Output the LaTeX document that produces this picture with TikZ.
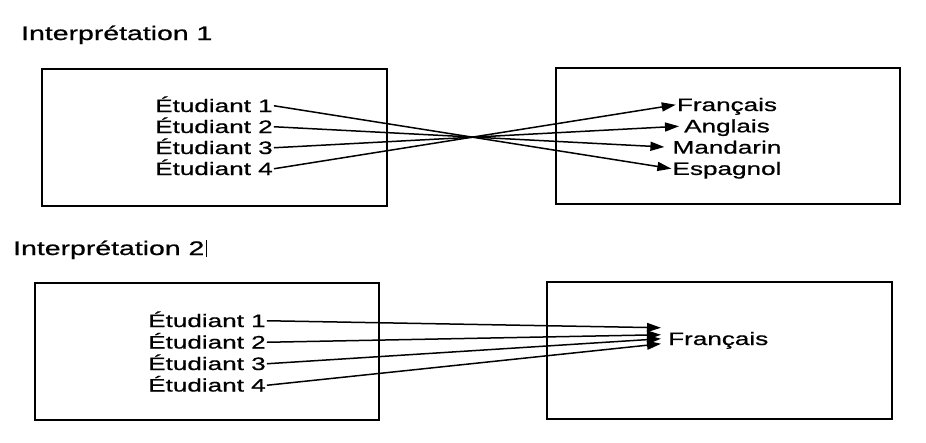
\documentclass[tikz,border=0pt]{standalone}
\usepackage{fontspec}
\setmainfont{Liberation Sans}[FakeStretch=1.45, FakeBold=0.8]
\usetikzlibrary{arrows.meta,positioning}

\tikzset{
    item/.style={font=\fontsize{18}{21}\selectfont, inner sep=1pt, text height=12.5pt, text depth=0pt},
    heading/.style={font=\fontsize{19.6}{23}\selectfont, inner sep=0pt, anchor=base west},
    frame/.style={line width=2pt},
    link/.style={-{Triangle[length=14pt,width=9pt]}, line width=1.5pt},
}

\begin{document}
\begin{tikzpicture}[x=1pt, y=-1pt]
    \useasboundingbox (0,0) rectangle (926,442);
    % Interpretation 1
    \node[heading] (t1) at (21,40) {Interprétation 1};
    \draw[frame] (42,69) rectangle (387,206);
    \draw[frame] (556,68) rectangle (900,204);
    \foreach \i in {1,...,4} {
        \node[item, anchor=base west] (a\i) at (154,91+21*\i) {Étudiant \i};
    }
    \foreach \lang/\name [count=\i] in {fr/Français,en/Anglais,zh/Mandarin,es/Espagnol} {
        \node[item, anchor=base] (\lang) at (727,89.7+21.3*\i) {\name};
    }
    \foreach \src/\dst/\gap in {a1/es/0pt,a2/zh/7pt,a3/en/4pt,a4/fr/0pt} {
        \draw[link, shorten >=\gap] (\src.east) -- (\dst.west);
    }
    % Interpretation 2
    \node[heading] (t2) at (13,255) {Interprétation 2};
    \draw[line width=0.8pt] ([shift={(2pt,-2pt)}]t2.base east) -- ++(0,-17);
    \draw[frame] (35,283) rectangle (379,420);
    \draw[frame] (547,282) rectangle (892,419);
    \foreach \i in {1,...,4} {
        \node[item, anchor=base west] (b\i) at (147,305.5+21.5*\i) {Étudiant \i};
    }
    \node[item, anchor=base west] (fr2) at (667,345) {Français};
    \foreach \i/\dy in {1/11pt,2/4pt,3/0pt,4/-5pt} {
        \draw[link] (b\i.east) -- ([xshift=-6pt, yshift=\dy]fr2.west);
    }
\end{tikzpicture}
\end{document}
